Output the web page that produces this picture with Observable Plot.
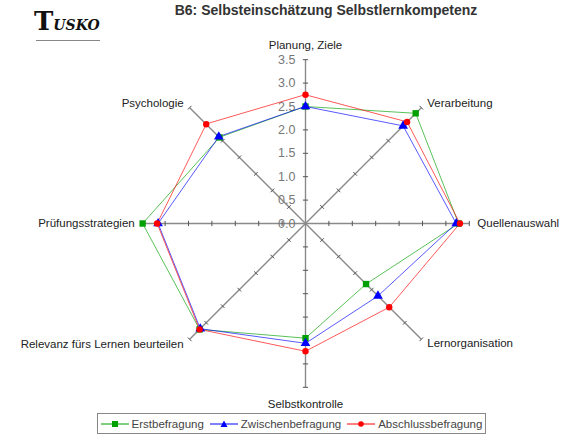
<!DOCTYPE html>
<html><head><meta charset="utf-8">
<script src="https://cdn.jsdelivr.net/npm/d3@7"></script>
<script src="https://cdn.jsdelivr.net/npm/@observablehq/plot@0.6"></script>
<style>
body{margin:0;background:#fff;font-family:"Liberation Sans",Arial,sans-serif;}
#wrap{position:relative;width:566px;height:438px;overflow:hidden;}
#chart{position:absolute;left:0;top:28px;}
#title{position:absolute;left:0;top:2px;width:566px;text-align:center;padding-left:86px;box-sizing:border-box;font-weight:bold;font-size:14px;color:#333;}
#logo{position:absolute;left:34px;top:6px;font-family:"DejaVu Serif",serif;font-weight:bold;color:#111;}
#logo .t{font-size:26px;}
#logo .r{font-size:14px;font-style:italic;}
#logo .u{position:absolute;left:2px;top:34px;width:64px;border-top:1px solid #888;}
#legend{position:absolute;left:97px;top:413px;width:389px;height:21px;border:1px solid #888;box-sizing:border-box;display:flex;align-items:center;justify-content:center;gap:6px;font-size:11.5px;color:#444;}
#legend span{display:flex;align-items:center;}
</style></head><body>
<div id="wrap">
 <div id="chart"></div>
 <div id="title">B6: Selbsteinschätzung Selbstlernkompetenz</div>
 <div id="logo"><span class="t">T</span><span class="r">USKO</span><div class="u"></div></div>
 <div id="legend"></div>
</div>
<script>
const categories = ["Planung, Ziele","Verarbeitung","Quellenauswahl","Lernorganisation","Selbstkontrolle","Relevanz fürs Lernen beurteilen","Prüfungsstrategien","Psychologie"];
const erstbefragung = [2.5, 3.33, 3.27, 1.83, 2.45, 3.2, 3.48, 2.6];
const zwischenbefragung = [2.5, 2.95, 3.22, 2.19, 2.56, 3.18, 3.15, 2.62];
const abschlussbefragung = [2.75, 3.07, 3.3, 2.53, 2.73, 3.2, 3.17, 3.0];
const seriesNames = ["Erstbefragung","Zwischenbefragung","Abschlussbefragung"];
const seriesColors = ["#00a000","#0000ff","#ff0000"];
const seriesSymbols = ["square","triangle","circle"];
const radialTicks = [0,0.5,1,1.5,2,2.5,3,3.5];
const tickLabels = ["0.0","0.5","1.0","1.5","2.0","2.5","3.0","3.5"];
const rMax = 3.5;

const K = 46.8; // px per unit
const W = 566, H = 382, cx = 305, cy = 195;
const ang = i => i * Math.PI / 4;
const px = (r, i) => r * Math.sin(ang(i));
const py = (r, i) => r * Math.cos(ang(i));

const seriesValues = [erstbefragung, zwischenbefragung, abschlussbefragung];
const pts = [];
seriesValues.forEach((vals, s) => vals.forEach((v, i) => pts.push({s, i, x: px(v, i), y: py(v, i)})));

const axes = categories.map((c, i) => ({i, x1: 0, y1: 0, x2: px(rMax, i), y2: py(rMax, i)}));
const ticks = [];
categories.forEach((c, i) => radialTicks.slice(1).forEach(t => {
  const p = 2.6 / K, a = ang(i);
  const bx = px(t, i), by = py(t, i);
  ticks.push({x1: bx + p*Math.cos(a), y1: by - p*Math.sin(a), x2: bx - p*Math.cos(a), y2: by + p*Math.sin(a)});
}));
const tickData = radialTicks.map((t, k) => ({t, label: tickLabels[k]}));

const labelCfg = [
  {anchor:"middle", dx:0, dy:-14},
  {anchor:"start", dx:6, dy:-4},
  {anchor:"start", dx:8, dy:0},
  {anchor:"start", dx:6, dy:4},
  {anchor:"middle", dx:0, dy:17},
  {anchor:"end", dx:-6, dy:5},
  {anchor:"end", dx:-7, dy:0},
  {anchor:"end", dx:-6, dy:-4}
];
const labels = categories.map((c, i) => ({c, i, anchor: labelCfg[i].anchor,
  x: px(rMax, i) + labelCfg[i].dx / K, y: py(rMax, i) - labelCfg[i].dy / K}));

const marks = [
  Plot.link(axes, {x1:"x1", y1:"y1", x2:"x2", y2:"y2", stroke:"#8a8a8a", strokeWidth:1.4}),
  Plot.link(ticks, {x1:"x1", y1:"y1", x2:"x2", y2:"y2", stroke:"#555", strokeWidth:1}),
  Plot.text(tickData, {x: -10 / K, y: "t", text: "label", textAnchor:"end", fill:"#777", fontSize:12.5})
];
["start","middle","end"].forEach(a => marks.push(
  Plot.text(labels.filter(d => d.anchor === a), {x:"x", y:"y", text:"c", textAnchor:a, fill:"#222", fontSize:11.5, letterSpacing:"0.2px"})
));
seriesValues.forEach((vals, s) => {
  const d = pts.filter(p => p.s === s);
  marks.push(Plot.line(d, {x:"x", y:"y", curve:"linear-closed", stroke: seriesColors[s], strokeWidth:1, strokeOpacity:0.65}));
});
seriesValues.forEach((vals, s) => {
  const d = pts.filter(p => p.s === s);
  marks.push(Plot.dot(d, {x:"x", y:"y", symbol: seriesSymbols[s], fill: seriesColors[s], stroke:"none", r: s === 2 ? 3.2 : 3.6}));
});

const chart = Plot.plot({
  width: W, height: H, margin: 0,
  x: {domain: [-cx / K, (W - cx) / K], axis: null},
  y: {domain: [-(H - cy) / K, cy / K], axis: null},
  style: {background: "transparent", overflow: "visible", fontFamily: "'Liberation Sans', Arial, sans-serif"},
  marks
});
document.getElementById("chart").appendChild(chart);

const leg = document.getElementById("legend");
seriesNames.forEach((n, s) => {
  const span = document.createElement("span");
  let sym;
  if (seriesSymbols[s] === "square") sym = `<rect x="11" y="4" width="6" height="6" fill="${seriesColors[s]}"/>`;
  else if (seriesSymbols[s] === "triangle") sym = `<path d="M14,3.5 L17.5,10 L10.5,10 Z" fill="${seriesColors[s]}"/>`;
  else sym = `<circle cx="14" cy="7" r="2.8" fill="${seriesColors[s]}"/>`;
  span.innerHTML = `<svg width="28" height="14"><line x1="0" y1="7" x2="28" y2="7" stroke="${seriesColors[s]}" stroke-width="1"/>${sym}</svg><span style="margin-left:3px">${n}</span>`;
  leg.appendChild(span);
});
</script>
</body></html>
